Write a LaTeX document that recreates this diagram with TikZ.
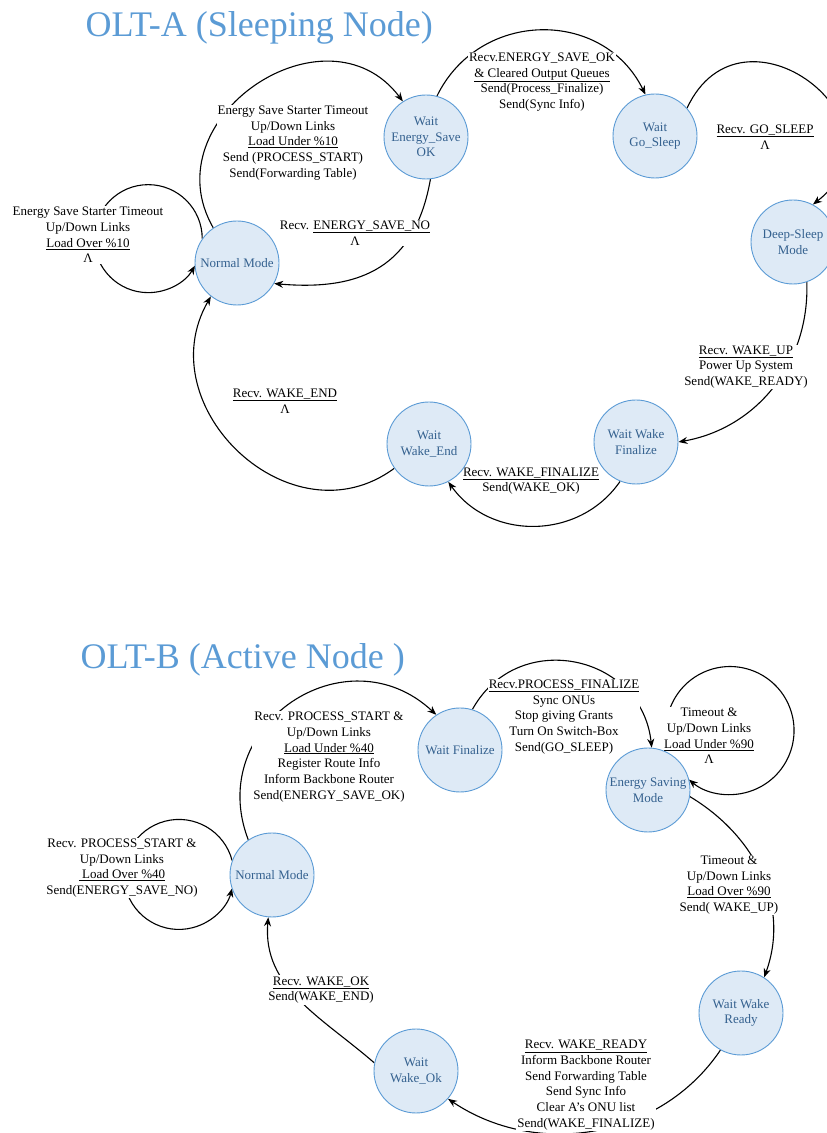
\documentclass[tikz,border=0pt]{standalone}
\usepackage{fontspec}
\setmainfont{Liberation Serif}
\usetikzlibrary{arrows.meta}
\definecolor{titleblue}{HTML}{5B9BD5}
\definecolor{stfill}{HTML}{DEEAF6}
\definecolor{stdraw}{HTML}{5B9BD5}
\definecolor{sttext}{HTML}{34618F}
\pgfdeclarelayer{edgelayer}
\pgfdeclarelayer{lbllayer}
\pgfsetlayers{edgelayer,lbllayer,main}
\begin{document}
\begin{tikzpicture}[x=1pt,y=1pt,>={Stealth[length=9pt,width=7pt]},
  stnode/.style={circle,draw=stdraw,fill=stfill,line width=0.9pt,minimum size=84pt,
    inner sep=0pt,align=center,text=sttext,font=\fontsize{13}{15.7}\selectfont},
  lbl/.style={fill=white,inner sep=1pt,align=center,font=\fontsize{13}{15.7}\selectfont},
  ttl/.style={anchor=base west,text=titleblue,font=\fontsize{36}{40}\selectfont},
  tr/.style={->,line width=1.1pt}]
\useasboundingbox (0,0) rectangle (827,1133);

% OLT-A
\node[ttl] (titleA) at (82,1096) {OLT-A (Sleeping Node)};
\node[stnode] (nmA) at (237,870) {Normal Mode};
\node[stnode] (wesA) at (426,996) {Wait\\Energy\_Save\\OK};
\node[stnode] (wgsA) at (655,997) {Wait\\Go\_Sleep};
\node[stnode] (dsA) at (793,891) {Deep-Sleep\\Mode};
\node[stnode] (wwfA) at (636,691) {Wait Wake\\Finalize};
\node[stnode] (wweA) at (429,689) {Wait\\Wake\_End};

\begin{pgfonlayer}{edgelayer}
\draw[tr] (nmA.124) to[out=120,in=127,looseness=1.42] (wesA.123);
\draw[tr] (wesA.-84) to[out=-100,in=-5,looseness=1.2] (nmA.-29);
\draw[tr] (nmA.145) arc[start angle=0,end angle=330,radius=54];
\draw[tr] (wesA.75) to[out=64,in=116,looseness=1.18] (wgsA.103);
\draw[tr] (wgsA.41) to[out=65,in=38,looseness=2.1] (dsA.62);
\draw[tr] (dsA.-71) to[out=-88,in=10,looseness=1.0] (wwfA.0);
\draw[tr] (wwfA.-112) to[out=-124.5,in=-54.7,looseness=1.07] (wweA.-63);
\draw[tr] (wweA.-145) to[out=-143.5,in=240,looseness=1.3] (nmA.-128);
\end{pgfonlayer}

\begin{pgfonlayer}{lbllayer}
\node[lbl] (lA1) at (293,990) {Energy Save Starter Timeout\\Up/Down Links\\\underline{Load Under \%10}\\Send (PROCESS\_START)\\Send(Forwarding Table)};
\node[lbl] (lA2) at (355,900) {Recv. \underline{ENERGY\_SAVE\_NO}\\Λ};
\node[lbl] (lA3) at (88,898) {Energy Save Starter Timeout\\Up/Down Links\\\underline{Load Over \%10}\\Λ};
\node[lbl] (lA4) at (542,1051) {Recv.ENERGY\_SAVE\_OK\\\underline{\& Cleared Output Queues}\\Send(Process\_Finalize)\\Send(Sync Info)};
\node[lbl] (lA5) at (765,996) {\underline{Recv. GO\_SLEEP}\\Λ};
\node[lbl] (lA6) at (746,766) {\underline{Recv. WAKE\_UP}\\Power Up System\\Send(WAKE\_READY)};
\node[lbl] (lA7) at (531,652) {\underline{Recv. WAKE\_FINALIZE}\\Send(WAKE\_OK)};
\node[lbl] (lA8) at (285,732) {\underline{Recv. WAKE\_END}\\Λ};
\end{pgfonlayer}

% OLT-B
\node[ttl] (titleB) at (77,464) {OLT-B (Active Node )};
\node[stnode] (nmB) at (272,258) {Normal Mode};
\node[stnode] (wfB) at (460,383) {Wait Finalize};
\node[stnode] (esmB) at (648,343) {Energy Saving\\Mode};
\node[stnode] (wwrB) at (741,120) {Wait Wake\\Ready};
\node[stnode] (wwoB) at (416,62) {Wait\\Wake\_Ok};

\begin{pgfonlayer}{edgelayer}
\draw[tr] (nmB.124) to[out=111,in=137,looseness=1.4] (wfB.124);
\draw[tr] (nmB.160) arc[start angle=14.7,end angle=345.3,radius=55];
\draw[tr] (wfB.73) to[out=61,in=96,looseness=1.31] (esmB.85);
\draw[tr] (esmB.58) arc[start angle=201.5,end angle=-130,radius=64];
\draw[tr] (esmB.-9) to[out=-31,in=70,looseness=1.0] (wwrB.57);
\draw[tr] (wwrB.-119) to[out=-124,in=-34,looseness=0.99] (wwoB.-41);
\draw[tr] (wwoB.169) to[out=139,in=-95,looseness=1.0] (nmB.-95);
\end{pgfonlayer}

\begin{pgfonlayer}{lbllayer}
\node[lbl] (lB1) at (329,376) {Recv. PROCESS\_START \&\\Up/Down Links\\\underline{Load Under \%40}\\Register Route Info\\Inform Backbone Router\\Send(ENERGY\_SAVE\_OK)};
\node[lbl] (lB2) at (122,265) {Recv. PROCESS\_START \&\\Up/Down Links\\\underline{~Load Over \%40}\\Send(ENERGY\_SAVE\_NO)};
\node[lbl] (lB3) at (564,416) {\underline{Recv.PROCESS\_FINALIZE}\\Sync ONUs\\Stop giving Grants\\Turn On Switch-Box\\Send(GO\_SLEEP)};
\node[lbl] (lB4) at (709,397) {Timeout \&\\Up/Down Links\\\underline{Load Under \%90}\\Λ};
\node[lbl] (lB5) at (729,248) {Timeout \&\\Up/Down Links\\\underline{Load Over \%90}\\Send( WAKE\_UP)};
\node[lbl] (lB6) at (586,48) {\underline{Recv. WAKE\_READY}\\Inform Backbone Router\\Send Forwarding Table\\Send Sync Info\\Clear A’s ONU list\\Send(WAKE\_FINALIZE)};
\node[lbl] (lB7) at (321,143) {\underline{Recv. WAKE\_OK}\\Send(WAKE\_END)};
\end{pgfonlayer}
\end{tikzpicture}
\end{document}
